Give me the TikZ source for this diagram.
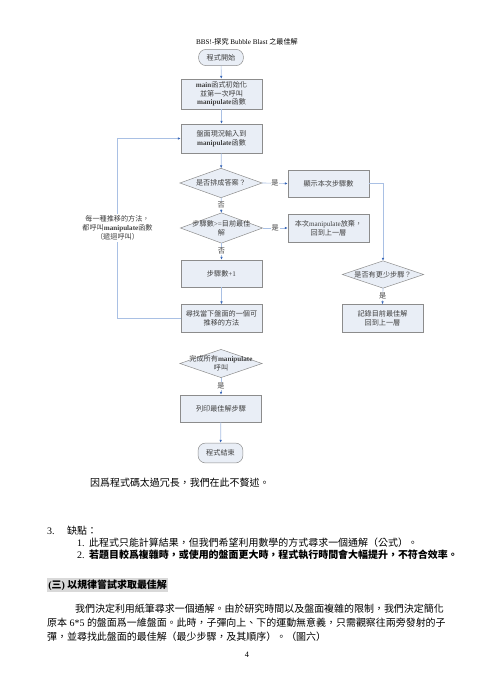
\documentclass[tikz,border=0pt]{standalone}
\usepackage{fontspec}
\setmainfont{Noto Sans CJK TC}
\newfontfamily\tnr{Liberation Serif}
\usetikzlibrary{arrows.meta,backgrounds}
\definecolor{boxfill}{HTML}{E9EEF6}
\definecolor{boxline}{HTML}{8C8C8C}
\definecolor{connline}{HTML}{A9C0E4}
\definecolor{arrowblue}{HTML}{3A68B8}
\definecolor{flowtext}{HTML}{404040}
\definecolor{headgray}{HTML}{D9D9D9}
\newcommand{\Lat}[1]{{\tnr #1}}
\newcommand{\Bm}[1]{{\tnr\bfseries #1}}
\begin{document}
\begin{tikzpicture}[x=1.2045pt,y=-1.2045pt,
  flowfont/.style={font=\fontsize{8.6}{10.5}\selectfont, text=flowtext},
  box/.style={draw=boxline, fill=boxfill, line width=0.6pt, minimum width=97.5pt, minimum height=34pt, inner sep=0pt, align=center, flowfont},
  term/.style={box, rounded corners=9pt, minimum width=54pt, minimum height=20pt},
  dnode/.style={minimum width=98.5pt, minimum height=34pt, inner sep=0pt, align=center, flowfont},
  dshape/.style={draw=boxline, fill=boxfill, line width=0.6pt},
  conn/.style={draw=connline, line width=0.8pt},
  arr/.style={conn, -{Latex[length=3.5pt,width=3pt,color=arrowblue]}},
  lab/.style={fill=white, inner sep=1pt, flowfont},
  body/.style={anchor=west, inner sep=0pt, font=\fontsize{12}{14}\selectfont},
]
\useasboundingbox (0,0) rectangle (494,700);

% title
\node[font=\fontsize{8.6}{10}\selectfont] (title) at (247,42) {\Lat{BBS!-}探究\Lat{ Bubble Blast }之最佳解};

% flowchart nodes
\node[term, minimum height=19.5pt] (start) at (221,57.5) {程式開始};
\node[box, minimum height=36pt] (b1) at (221.5,94) {\Bm{main}函式初始化\\並第一次呼叫\\\Bm{manipulate}函數};
\node[box, minimum height=35pt] (b2) at (221.5,138.5) {盤面現況輸入到\\\Bm{manipulate}函數};
\node[dnode, minimum height=35pt] (d1) at (221,183) {是否排成答案？};
\node[box, minimum height=32.5pt] (r1) at (328.5,183.5) {顯示本次步驟數};
\node[dnode, minimum height=36pt] (d2) at (221.5,228) {步驟數\Lat{>=}目前最佳\\解};
\node[box, minimum height=34pt] (r2) at (328.5,228) {本次\Lat{manipulate}放棄，\\回到上一層};
\node[box, minimum height=32.5pt] (b3) at (221.5,273.5) {步驟數\Lat{+1}};
\node[dnode, minimum width=97.5pt, minimum height=32.5pt] (d3) at (383,274.5) {是否有更少步驟？};
\node[box, minimum height=33.5pt] (b4) at (221.5,318.5) {尋找當下盤面的一個可\\推移的方法};
\node[box, minimum height=33.5pt] (r3) at (382.5,318.5) {記錄目前最佳解\\回到上一層};
\node[dnode, minimum height=33.5pt] (d4) at (221,363.5) {完成所有\Bm{manipulate}\\呼叫};
\node[box, minimum height=32.5pt] (b5) at (221,408.5) {列印最佳解步驟};
\node[term, minimum height=24pt] (end) at (220.5,453) {程式結束};

\begin{scope}[on background layer]
  \fill[white] (0,0) rectangle (494,700);
  \foreach \d in {d1,d2,d3,d4}
    \draw[dshape] (\d.north) -- (\d.east) -- (\d.south) -- (\d.west) -- cycle;
\end{scope}

% connectors
\draw[arr] (start) -- (b1);
\draw[arr] (b1) -- (b2);
\draw[arr] (b2) -- (d1);
\draw[arr] (d1) -- node[lab] {否} (d2);
\draw[arr] (d1.east) -- node[lab] {是} (r1.west);
\draw[arr] (d2) -- node[lab] {否} (b3);
\draw[arr] (d2.east) -- node[lab] {是} (r2.west);
\draw[arr] (b3) -- (b4);
\draw[arr] (r1.east) -| (d3.north);
\draw[arr] (d3.south) -- node[lab] {是} (r3.north);
\coordinate (lc) at (117,318.5);
\draw[arr] (b4.west) -- (lc) |- (b2.west);
\node[lab, align=center, inner sep=2pt] (looplab) at (117.5,228) {每一種推移的方法，\\都呼叫\Bm{manipulate}函數\\（遞迴呼叫）};
\draw[arr] (d4.south) -- node[lab] {是} (b5.north);
\draw[arr] (b5) -- (end);

% body text
\node[body] (t0) at (90,483) {因爲程式碼太過冗長，我們在此不贅述。};
\node[body] (n3) at (47,531) {\Lat{3.}};
\node[body] (t3) at (67,531) {缺點：};
\node[body] (n31) at (77,543) {\Lat{1.}};
\node[body] (t31) at (89,543) {此程式只能計算結果，但我們希望利用數學的方式尋求一個通解（公式）。};
\node[body] (n32) at (77,555) {\Lat{2.}};
\node[body] (t32) at (89,555) {\bfseries 若題目較爲複雜時，或使用的盤面更大時，程式執行時間會大幅提升，不符合效率。};
\node[body, fill=headgray, inner sep=1.5pt] (head) at (47,585) {\bfseries \Lat{(}三\Lat{)} 以規律嘗試求取最佳解};
\node[body] (p1) at (75,609) {我們決定利用紙筆尋求一個通解。由於研究時間以及盤面複雜的限制，我們決定簡化};
\node[body] (p2) at (47,623) {原本\Lat{ 6*5 }的盤面爲一維盤面。此時，子彈向上、下的運動無意義，只需觀察往兩旁發射的子};
\node[body] (p3) at (47,637) {彈，並尋找此盤面的最佳解（最少步驟，及其順序）。（圖六）};
\node[font=\fontsize{10}{12}\selectfont\tnr] (pg) at (247,655) {4};
\end{tikzpicture}
\end{document}
